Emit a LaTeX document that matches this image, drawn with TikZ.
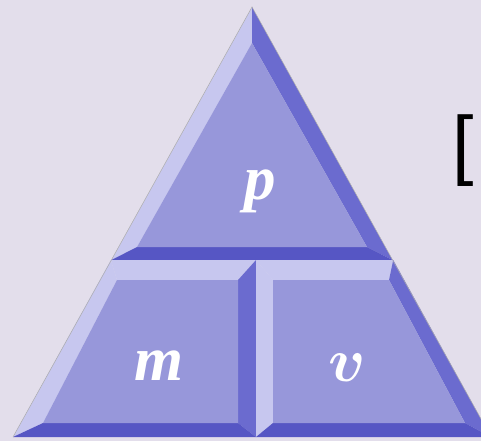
\documentclass[tikz,border=0pt]{standalone}
\usepackage{fontspec}
\setmainfont{Liberation Serif}
\newfontfamily\brfont{Liberation Sans}
\definecolor{bgc}{HTML}{E3DEEB}
\definecolor{facec}{HTML}{9797DA}
\definecolor{lightc}{HTML}{C7C7EF}
\definecolor{midc}{HTML}{6B6BCF}
\definecolor{darkc}{HTML}{5656C4}
\tikzset{
  face/.style={fill=facec},
  bevlight/.style={fill=lightc},
  bevmid/.style={fill=midc},
  bevdark/.style={fill=darkc},
  letter/.style={text=white, inner sep=0pt, anchor=base, font=\fontsize{63}{63}\selectfont\bfseries\itshape},
  edgeline/.style={draw=gray!65, line width=0.5pt}
}
\begin{document}
\begin{tikzpicture}[x=1pt,y=-1pt]
\useasboundingbox (0,0) rectangle (481,441);
\clip (0,0) rectangle (481,441);
\fill[bgc] (0,0) rectangle (481,441);
% top triangle
\coordinate (A) at (252,7);
\coordinate (oL) at (111.5,260);
\coordinate (oR) at (392.5,260);
\coordinate (iA) at (252,43);
\coordinate (iL) at (137,247);
\coordinate (iR) at (367,247);
\fill[bevlight] (A) -- (oL) -- (iL) -- (iA) -- cycle;
\fill[bevmid] (A) -- (iA) -- (iR) -- (oR) -- cycle;
\fill[bevdark] (oL) -- (iL) -- (iR) -- (oR) -- cycle;
\fill[face] (iA) -- (iL) -- (iR) -- cycle;
% m block
\coordinate (mTL) at (110.8,260);
\coordinate (mTR) at (256,260);
\coordinate (mBR) at (256,437);
\coordinate (mBL) at (13,437);
\coordinate (mitl) at (117,280);
\coordinate (mitr) at (238,280);
\coordinate (mibr) at (238,423);
\coordinate (mibl) at (43,423);
\fill[bevlight] (mTL) -- (mTR) -- (mitr) -- (mitl) -- cycle;
\fill[bevlight] (mTL) -- (mitl) -- (mibl) -- (mBL) -- cycle;
\fill[bevmid] (mTR) -- (mBR) -- (mibr) -- (mitr) -- cycle;
\fill[bevdark] (mBL) -- (mibl) -- (mibr) -- (mBR) -- cycle;
\fill[face] (mitl) -- (mitr) -- (mibr) -- (mibl) -- cycle;
% v block
\coordinate (vTL) at (256,260);
\coordinate (vTR) at (393.2,260);
\coordinate (vBR) at (491,437);
\coordinate (vBL) at (256,437);
\coordinate (vitl) at (273,280);
\coordinate (vitr) at (389,280);
\coordinate (vibr) at (465,423);
\coordinate (vibl) at (273,423);
\fill[bevlight] (vTL) -- (vitl) -- (vibl) -- (vBL) -- cycle;
\fill[bevlight] (vTL) -- (vTR) -- (vitr) -- (vitl) -- cycle;
\fill[bevmid] (vTR) -- (vBR) -- (vibr) -- (vitr) -- cycle;
\fill[bevdark] (vBL) -- (vibl) -- (vibr) -- (vBR) -- cycle;
\fill[face] (vitl) -- (vitr) -- (vibr) -- (vibl) -- cycle;
% outline
\draw[edgeline] (mBL) -- (A) -- (vBR);
% letters
\node[letter] (p) at (260,199) {p};
\node[letter] (m) at (159,380) {m};
\node[letter] (v) at (346,381) {\scalebox{6.2}{\fontsize{10}{12}\usefont{OML}{cmm}{b}{it}v}};
% bracket
\node[inner sep=0pt, anchor=base west, font=\brfont\fontsize{77}{77}\selectfont] (br) at (452,170) {[};
\end{tikzpicture}
\end{document}
